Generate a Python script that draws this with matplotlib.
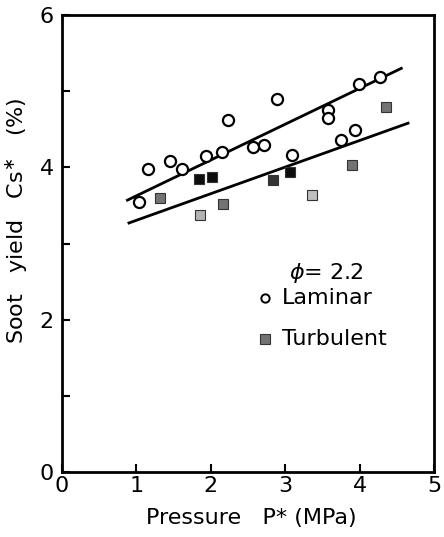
import matplotlib.pyplot as plt
import numpy as np

# laminar data (open circles)
lam_p = [1.04, 1.15, 1.45, 1.61, 1.93, 2.15, 2.23, 2.57, 2.72, 2.89, 3.09, 3.58, 3.58, 3.75, 3.94, 3.99, 4.27]
lam_cs = [3.54, 3.98, 4.09, 3.98, 4.15, 4.20, 4.62, 4.27, 4.30, 4.90, 4.16, 4.75, 4.65, 4.36, 4.49, 5.09, 5.19]

# turbulent data (shaded squares)
turb_p = [1.32, 1.84, 2.02, 1.85, 2.17, 2.84, 3.06, 3.36, 3.90, 4.35]
turb_cs = [3.60, 3.85, 3.88, 3.37, 3.52, 3.83, 3.94, 3.64, 4.03, 4.79]

# fitted lines (end points)
lam_fit_p = [0.88, 4.56]
lam_fit_cs = [3.57, 5.30]
turb_fit_p = [0.90, 4.65]
turb_fit_cs = [3.27, 4.58]

turb_shade = ['0.45', '0.05', '0.05', '0.7', '0.45', '0.2', '0.05', '0.75', '0.45', '0.45']

plt.rcParams['font.family'] = ['DejaVu Sans']

fig = plt.figure(figsize=(4.44, 5.37), dpi=100)
ax = fig.add_axes([0.1396, 0.121, 0.838, 0.851])

ax.plot(lam_fit_p, lam_fit_cs, color='black', lw=2)
ax.plot(turb_fit_p, turb_fit_cs, color='black', lw=2)

ax.plot(lam_p, lam_cs, 'o', ms=8, mfc='white', mec='black', mew=1.6, ls='none')
for p, c, s in zip(turb_p, turb_cs, turb_shade):
    ax.plot(p, c, 's', ms=7, mfc=s, mec='0.2', mew=0.8, ls='none')

ax.set_xlim(0, 5)
ax.set_ylim(0, 6)
ax.set_xticks([0, 1, 2, 3, 4, 5])
ax.set_yticks([0, 2, 4, 6])
ax.set_yticks([1, 3, 5], minor=True)
ax.tick_params(axis='both', which='both', direction='in', length=6, width=1.5, labelsize=16)
ax.tick_params(axis='x', pad=3)
ax.tick_params(axis='y', pad=6)
for s in ax.spines.values():
    s.set_linewidth(2)

ax.set_xlabel('Pressure   P* (MPa)', fontsize=16)
ax.set_ylabel('Soot   yield   Cs$^{\\ast}$   (%)', fontsize=16)
ax.yaxis.set_label_coords(-0.085, 0.55)
ax.xaxis.set_label_coords(0.51, -0.078)
ax.xaxis.label.set_va('top')

# legend drawn as text
ax.text(3.05, 2.61, '$\\phi$= 2.2', fontsize=16, va='center', ha='left')
ax.plot([2.73], [2.28], 'o', ms=6, mfc='white', mec='black', mew=1.4)
ax.text(2.96, 2.28, 'Laminar', fontsize=16, va='center', ha='left')
ax.plot([2.73], [1.74], 's', ms=7, mfc='0.45', mec='0.2', mew=0.8)
ax.text(2.96, 1.74, 'Turbulent', fontsize=16, va='center', ha='left')

fig.savefig('out.png', dpi=100)
